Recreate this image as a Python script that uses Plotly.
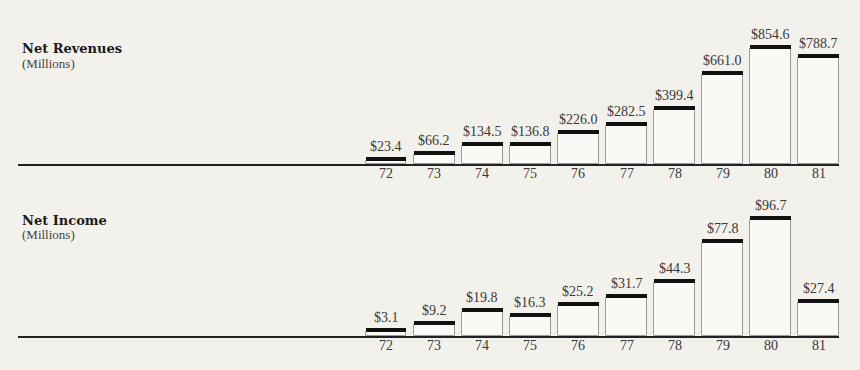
import plotly.graph_objects as go

years = ["72", "73", "74", "75", "76", "77", "78", "79", "80", "81"]
revenues = [23.4, 66.2, 134.5, 136.8, 226.0, 282.5, 399.4, 661.0, 854.6, 788.7]
income = [3.1, 9.2, 19.8, 16.3, 25.2, 31.7, 44.3, 77.8, 96.7, 27.4]
titles = ["Net Revenues", "Net Income"]
subtitle = "(Millions)"

W, H = 860, 370
BG = "#f3f1ec"
BAR_FILL = "#faf9f6"
CAP_PX = 4

# panel geometry (pixels): baseline y, top of plotting area, y-range max
panels = [
    dict(base=164, top=10, ymax=1144, title_y=48, sub_y=63),
    dict(base=336, top=190, ymax=122.1, title_y=220, sub_y=234),
]
# x geometry: bar centres at 386 + 48.1*i px, axis line from 18 to 839 px
pitch, c0 = 48.1, 386
xl, xr = 18, 839
xrange = [(xl - c0) / pitch, (xr - c0) / pitch]

fig = go.Figure()
series = [revenues, income]
for k, (vals, p) in enumerate(zip(series, panels)):
    xa = "x" if k == 0 else "x2"
    ya = "y" if k == 0 else "y2"
    units_per_px = p["ymax"] / (p["base"] - p["top"])
    cap = CAP_PX * units_per_px
    fig.add_bar(x=years, y=vals, xaxis=xa, yaxis=ya, width=0.85,
                marker=dict(color=BAR_FILL, line=dict(color="#9c9c9c", width=1)),
                hoverinfo="skip", showlegend=False)
    fig.add_bar(x=years, y=[cap] * len(vals), base=vals, xaxis=xa, yaxis=ya, width=0.85,
                marker=dict(color="#111111", line=dict(width=0)),
                hoverinfo="skip", showlegend=False)
    for i, (yr, v) in enumerate(zip(years, vals)):
        # category axes: annotation positions use the category index
        fig.add_annotation(x=i, y=v, xref=xa, yref=ya, text=f"${v:.1f}",
                           showarrow=False, yanchor="bottom", yshift=CAP_PX + 1,
                           font=dict(family="Liberation Serif", size=14, color="#383838"))
        fig.add_annotation(x=i, y=0, xref=xa, yref=ya, text=yr,
                           showarrow=False, yanchor="top", yshift=0,
                           font=dict(family="Liberation Serif", size=14, color="#383838"))
    fig.add_annotation(x=20 / W, y=1 - p["title_y"] / H, xref="paper", yref="paper",
                       text=f"<b>{titles[k]}</b>", showarrow=False,
                       xanchor="left", yanchor="middle",
                       font=dict(family="DejaVu Serif", size=13, color="#1a1a1a"))
    fig.add_annotation(x=20 / W, y=1 - p["sub_y"] / H, xref="paper", yref="paper",
                       text=subtitle, showarrow=False,
                       xanchor="left", yanchor="middle",
                       font=dict(family="Liberation Serif", size=13, color="#444444"))

axis_common = dict(type="category", range=xrange, domain=[xl / W, xr / W],
                   showline=True, linecolor="#222222", linewidth=1.5,
                   showgrid=False, zeroline=False, ticks="", showticklabels=False,
                   fixedrange=True)
fig.update_layout(
    width=W, height=H, margin=dict(l=0, r=0, t=0, b=0),
    paper_bgcolor=BG, plot_bgcolor="rgba(0,0,0,0)",
    barmode="overlay", bargap=0,
    xaxis=dict(**axis_common, anchor="y"),
    xaxis2=dict(**axis_common, anchor="y2"),
    yaxis=dict(domain=[1 - panels[0]["base"] / H, 1 - panels[0]["top"] / H],
               range=[0, panels[0]["ymax"]], visible=False, fixedrange=True),
    yaxis2=dict(domain=[1 - panels[1]["base"] / H, 1 - panels[1]["top"] / H],
                range=[0, panels[1]["ymax"]], visible=False, fixedrange=True),
)
fig.write_html("out.html")
